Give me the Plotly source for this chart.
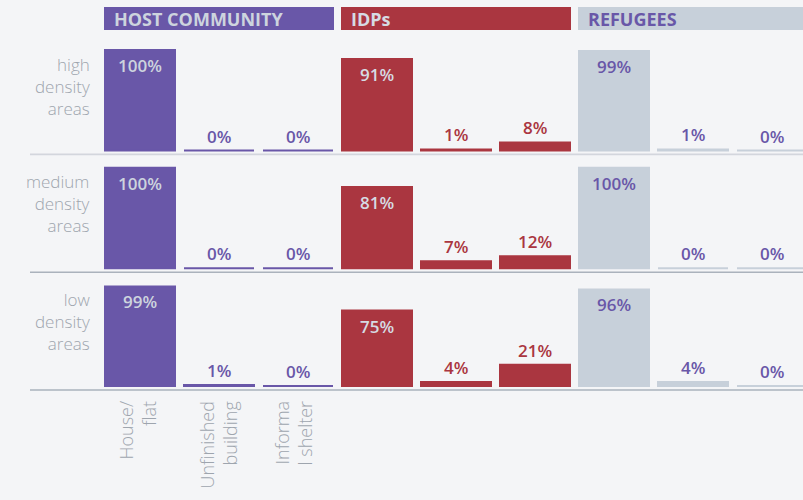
import plotly.graph_objects as go

# ---------------- data ----------------
row_labels = ["high<br>density<br>areas",
              "medium<br>density<br>areas",
              "low<br>density<br>areas"]
groups = ["HOST COMMUNITY", "IDPs", "REFUGEES"]
shelter_labels = ["House/<br>flat", "Unfinished<br>building", "Informa<br>l shelter"]

host_values = [[100, 0, 0], [100, 0, 0], [99, 1, 0]]
idp_values = [[91, 1, 8], [81, 7, 12], [75, 4, 21]]
refugee_values = [[99, 1, 0], [100, 0, 0], [96, 4, 0]]
group_values = [host_values, idp_values, refugee_values]

# ---------------- style ----------------
W, H = 803, 500
BG = "#f4f5f7"
PURPLE = "#6957a8"
RED = "#aa3640"
LIGHT = "#c7d0da"
LABEL_LIGHT = "#cdd4de"
GRAY_TXT = "#9ea5ae"
bar_fill = [PURPLE, RED, LIGHT]
txt_in = [LABEL_LIGHT, "#d6dbe3", PURPLE]
txt_out = [PURPLE, RED, PURPLE]
head_txt = [LABEL_LIGHT, "#d6dbe3", PURPLE]

pitch = 79.0
bw = 70.0 / pitch           # bar width in data units (stroke adds 2px)
left_px = 30.0
x0_center_px = 140.0
xr = [(left_px - x0_center_px) / pitch, (W - x0_center_px) / pitch]

k = 1.005                   # px per percent unit
zeros_px = [150.5, 268.3, 385.9]
yr = [-5, 105]

LABEL_FONT = "Open Sans"
THIN_FONT = "Open Sans"

fig = go.Figure()
annotations = []
shapes = []

for r in range(3):
    yname = "y" if r == 0 else f"y{r+1}"
    Z = zeros_px[r]
    top_px = Z - yr[1] * k
    bot_px = Z - yr[0] * k
    dom = [1 - bot_px / H, 1 - top_px / H]
    ax_key = "yaxis" if r == 0 else f"yaxis{r+1}"
    fig.update_layout({ax_key: dict(domain=dom, range=yr, visible=False,
                                    fixedrange=True, anchor="x")})
    for g in range(3):
        vals = group_values[g][r]
        xs = [3 * g + i for i in range(3)]
        fig.add_trace(go.Bar(
            x=xs, y=vals, width=bw, yaxis=yname, xaxis="x",
            marker=dict(color=bar_fill[g], line=dict(color=bar_fill[g], width=2)),
            hoverinfo="skip", showlegend=False))
        for xi, v in zip(xs, vals):
            if v >= 50:
                annotations.append(dict(
                    x=xi, y=v, xref="x", yref=yname, text=f"{v}%",
                    showarrow=False, yanchor="top", yshift=-2,
                    font=dict(family=LABEL_FONT, size=17, weight=600, color=txt_in[g])))
            else:
                annotations.append(dict(
                    x=xi, y=v, xref="x", yref=yname, text=f"{v}%",
                    showarrow=False, yanchor="bottom", yshift=1,
                    font=dict(family=LABEL_FONT, size=17, weight=600, color=txt_out[g])))
    # baseline
    shapes.append(dict(type="line", xref="paper", yref=yname,
                       x0=left_px / W, x1=1, y0=-4, y1=-4,
                       line=dict(color="#d3d6dd" if r == 0 else "#aab2bc",
                                 width=2 if r == 0 else 1.5)))
    # row label
    annotations.append(dict(
        x=90.5 / W, xref="paper", y=64, yref=yname, text=row_labels[r],
        showarrow=False, xanchor="right", yanchor="middle", align="right",
        borderpad=0,
        font=dict(family=THIN_FONT, size=17, weight=300, color=GRAY_TXT)))

# group headers
for g in range(3):
    xa = 3 * g - 72.0 / pitch / 2
    xb = 3 * g + 2 + 72.0 / pitch / 2
    shapes.append(dict(type="rect", xref="x", yref="paper",
                       x0=xa, x1=xb, y0=1 - 30 / H, y1=1 - 7 / H,
                       line=dict(width=0), fillcolor=bar_fill[g], layer="below"))
    annotations.append(dict(
        x=xa, xref="x", y=1 - 19 / H, yref="paper", text=groups[g],
        showarrow=False, xanchor="left", yanchor="middle", xshift=8,
        font=dict(family=LABEL_FONT, size=18, weight=700, color=head_txt[g])))

# shelter type labels (rotated), under the host community columns
shelter_shift = [-3, -1.5, -5]
for i, lab in enumerate(shelter_labels):
    annotations.append(dict(
        x=i, xref="x", y=1 - 400 / H, yref="paper", text=lab,
        showarrow=False, textangle=-90, xanchor="center", yanchor="top",
        align="right", xshift=shelter_shift[i], borderpad=0,
        font=dict(family=THIN_FONT, size=18, weight=300, color=GRAY_TXT)))

fig.update_layout(
    width=W, height=H, margin=dict(l=0, r=0, t=0, b=0),
    paper_bgcolor=BG, plot_bgcolor=BG, barmode="overlay",
    xaxis=dict(domain=[left_px / W, 1], range=xr, visible=False, fixedrange=True),
    shapes=shapes, annotations=annotations, showlegend=False)

fig.write_html("out.html", config={"displayModeBar": False},
               post_script="document.body.style.margin='0';")
